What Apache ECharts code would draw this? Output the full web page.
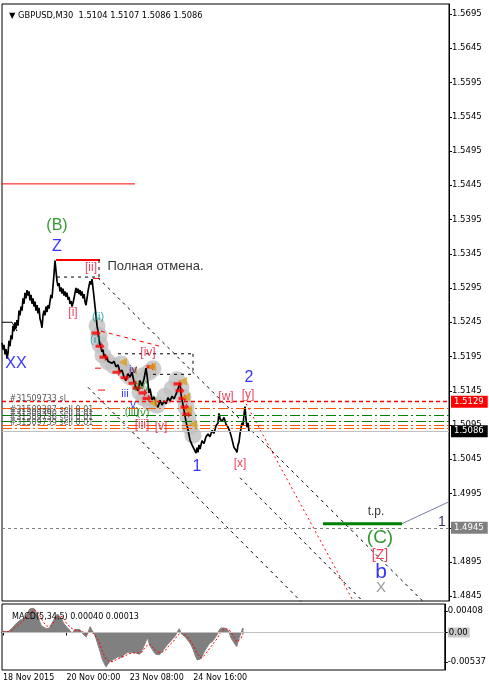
<!DOCTYPE html>
<html><head><meta charset="utf-8">
<script src="https://cdn.jsdelivr.net/npm/echarts@6/dist/echarts.min.js"></script>
<style>html,body{margin:0;padding:0;background:#fff}#c{width:489px;height:688px}</style>
</head><body><div id="c"></div>
<script>
// ---------- DATA ----------
const barX = [2,3,4,5,6,7,8,9,10,11,12,13,14,15,16,17,18,19,20,21,22,23,24,25,26,27,28,29,30,31,32,33,34,35,36,37,38,39,40,41,42,43,44,45,46,47,48,49,50,51,52,53,54,55,56,57,58,59,60,61,62,63,64,65,66,67,68,69,70,71,72,73,74,75,76,77,78,79,80,81,82,83,84,85,86,87,88,89,90,91,92,93,94,95,96,97,98,99,100,101,102,103,104,105,106,107,108,110,112,114,116,118,120,122,124,126,128,130,132,134,136,138,140,142,144,146,147,148,149,150,152,154,156,158,160,162,164,166,168,170,172,174,176,178,180,181,182,184,186,188,190,192,194,196,197,198,199,200,202,204,206,208,210,212,214,216,218,219,220,222,224,226,228,230,232,234,236,237,238,239,240,241,242,243,244,245,246,247,248,249];
const barPrice = [1.5215,1.5205,1.5212,1.5198,1.5206,1.5192,1.5200,1.5218,1.5210,1.5226,1.5220,1.5240,1.5232,1.5245,1.5236,1.5248,1.5240,1.5262,1.5255,1.5268,1.5262,1.5280,1.5272,1.5288,1.5280,1.5292,1.5284,1.5290,1.5277,1.5285,1.5272,1.5280,1.5268,1.5275,1.5262,1.5270,1.5258,1.5266,1.5250,1.5245,1.5237,1.5255,1.5262,1.5255,1.5268,1.5260,1.5270,1.5265,1.5276,1.5285,1.5280,1.5298,1.5315,1.5335,1.5320,1.5305,1.5298,1.5302,1.5290,1.5296,1.5287,1.5294,1.5284,1.5290,1.5282,1.5288,1.5278,1.5282,1.5272,1.5276,1.5268,1.5273,1.5280,1.5288,1.5295,1.5288,1.5294,1.5286,1.5292,1.5284,1.5290,1.5280,1.5286,1.5275,1.5270,1.5280,1.5290,1.5298,1.5305,1.5300,1.5308,1.5295,1.5282,1.5268,1.5255,1.5240,1.5232,1.5220,1.5212,1.5208,1.5202,1.5205,1.5195,1.5198,1.5190,1.5194,1.5188,1.5190,1.5185,1.5188,1.5180,1.5183,1.5172,1.5175,1.5165,1.5160,1.5170,1.5165,1.5172,1.5158,1.5150,1.5145,1.5160,1.5152,1.5162,1.5178,1.5168,1.5155,1.5142,1.5148,1.5132,1.5136,1.5125,1.5121,1.5131,1.5124,1.5130,1.5126,1.5135,1.5130,1.5137,1.5133,1.5140,1.5138,1.5156,1.5140,1.5132,1.5117,1.5100,1.5088,1.5073,1.5066,1.5060,1.5054,1.5062,1.5055,1.5066,1.5060,1.5072,1.5068,1.5078,1.5082,1.5078,1.5087,1.5083,1.5094,1.5098,1.5112,1.5104,1.5100,1.5106,1.5096,1.5092,1.5085,1.5074,1.5062,1.5058,1.5055,1.5066,1.5070,1.5082,1.5090,1.5098,1.5094,1.5110,1.5122,1.5104,1.5092,1.5098,1.5086];

const priceTicks = [1.4845,1.4895,1.4945,1.4995,1.5045,1.5095,1.5145,1.5195,1.5245,1.5295,1.5345,1.5395,1.5445,1.5495,1.5545,1.5595,1.5645,1.5695];
const dateTickX = [3,67,131,195];
const dateTickText = ['18 Nov 2015','20 Nov 00:00','23 Nov 08:00','24 Nov 16:00'];

const macdX = [3,5,8,10,13,15,17,20,23,26,28,30,32,34,36,38,40,42,44,47,50,52,54,56,58,60,62,64,67,70,72,73,75,78,81,83,85,87,89,91,93,95,97,99,101,103,105,107,109,111,113,115,117,119,121,123,125,127,129,131,133,135,137,139,141,143,145,147,149,151,153,155,157,159,161,163,165,167,169,171,173,175,177,179,181,183,185,187,189,191,193,195,197,199,201,203,205,207,209,211,213,215,217,219,221,223,225,227,229,231,233,235,237,239,241,243,245,246];
const macdHist = [0.0002,0.0003,0.0001,0.0002,0.0008,0.0012,0.0014,0.0019,0.0021,0.0026,0.0031,0.0037,0.0040,0.0038,0.0033,0.0028,0.0017,0.0010,0.0007,0.0006,0.0007,0.0013,0.0019,0.0025,0.0029,0.0027,0.0022,0.0015,0.0009,0.0004,0.0002,-0.0001,0.0004,0.0005,0.0004,-0.0001,-0.0003,-0.0007,0.0001,0.0009,0.0003,-0.0001,-0.0010,-0.0020,-0.0030,-0.0041,-0.0048,-0.0054,-0.0051,-0.0045,-0.0044,-0.0042,-0.0040,-0.0038,-0.0037,-0.0039,-0.0035,-0.0033,-0.0031,-0.0033,-0.0031,-0.0031,-0.0032,-0.0033,-0.0034,-0.0029,-0.0022,-0.0015,-0.0008,-0.0020,-0.0025,-0.0030,-0.0034,-0.0033,-0.0035,-0.0031,-0.0027,-0.0024,-0.0019,-0.0016,-0.0012,-0.0009,-0.0005,0.0001,0.0006,-0.0002,-0.0004,-0.0007,-0.0010,-0.0015,-0.0020,-0.0027,-0.0036,-0.0043,-0.0046,-0.0041,-0.0034,-0.0028,-0.0023,-0.0018,-0.0016,-0.0013,-0.0010,-0.0004,0.0003,0.0007,0.0008,0.0007,0.0007,0.0002,-0.0008,-0.0013,-0.0018,-0.0022,-0.0010,-0.0002,0.0007,0.0004];
const sigX = [3,7,11,15,19,23,27,31,35,39,43,47,51,55,59,63,67,71,75,79,83,87,91,95,99,103,107,111,115,119,123,127,131,135,139,143,147,151,155,159,163,167,171,175,179,183,187,191,195,199,203,207,211,215,219,223,227,231,235,239,243,246];
const sigVal = [0.0001,0.0001,0.0002,0.0008,0.0013,0.0018,0.0024,0.0031,0.0036,0.0030,0.0018,0.0010,0.0010,0.0018,0.0026,0.0025,0.0015,0.0008,0.0004,0.0003,0.0002,-0.0003,0.0001,-0.0002,-0.0012,-0.0028,-0.0042,-0.0046,-0.0045,-0.0041,-0.0039,-0.0036,-0.0033,-0.0032,-0.0032,-0.0031,-0.0022,-0.0018,-0.0025,-0.0031,-0.0031,-0.0028,-0.0020,-0.0014,-0.0005,0.0000,-0.0004,-0.0010,-0.0020,-0.0033,-0.0040,-0.0035,-0.0026,-0.0018,-0.0010,0.0001,0.0006,0.0005,-0.0004,-0.0015,-0.0010,0.0001];
const macdTickPos = [0.00337, 0, -0.00463];
const macdTickText = ['0.00408','0.00','-0.00537'];

// full-width price levels [price, kind]
const levelLines = [[1.5129,'sl'],[1.5120,'orange'],[1.5109,'green'],[1.5101,'green'],[1.5095,'orange'],[1.5090,'orange'],[1.5086,'bid'],[1.4945,'target']];
// drawn segments [x1, p1, x2, p2, kind]
const segments = [
 [2,1.5447,135,1.5447,'redSolid'],
 [56,1.5336,100,1.5336,'redThick'],
 [57,1.5311,95,1.5311,'blackDash'],
 [99,1.5336,99,1.5311,'blackDash'],
 [93,1.5309,100,1.5309,'redSolid'],
 [118,1.5199,193,1.5199,'blackDash'],
 [193,1.5199,193,1.5169,'blackDash'],
 [153,1.5169,193,1.5169,'blackDash'],
 [98,1.5310,424,1.4836,'blackDash'],
 [88,1.5150,302,1.4836,'blackDash'],
 [240,1.5018,364,1.4836,'blackDash'],
 [246,1.5126,354,1.4836,'redDot'],
 [101,1.5232,160,1.5210,'redDash'],
 [95,1.5178,101,1.5178,'redSolid'],
 [98,1.5146,105,1.5146,'redSolid'],
 [323,1.4951,402,1.4951,'tp'],
 [402,1.4951,449,1.4983,'grayThin'],
 [2,1.5245,12,1.5245,'blackThin'],
 [12,1.5245,17,1.5232,'blackThin']
];
// trade markers
const blobX = [97,99,100,103,108,114,121,125,130,136,143,149,153,140,144,150,157,165,172,177,181,183,186,188,190,193];
const blobP = [1.5240,1.5226,1.5212,1.5197,1.5187,1.5181,1.5184,1.5174,1.5165,1.5161,1.5167,1.5172,1.5177,1.5143,1.5134,1.5127,1.5124,1.5137,1.5148,1.5161,1.5150,1.5136,1.5121,1.5107,1.5092,1.5080];
const sellX = [96,100,104,117,125,133,137,143,147,151,178,180,183,185,187];
const sellP = [1.5229,1.5210,1.5194,1.5172,1.5164,1.5156,1.5149,1.5142,1.5134,1.5180,1.5155,1.5145,1.5134,1.5121,1.5111];
const closeX = [123,133,152,153,183,186,188,193];
const closeP = [1.5187,1.5175,1.5180,1.5127,1.5159,1.5136,1.5117,1.5096];

// text annotations [text, x, price, kind]
const waveLabels = [
 ['(B)',57,1.5386,'greenBig'],['Z',57,1.5356,'blueBig'],['XX',16,1.5184,'blueBig'],
 ['[i]',73,1.5259,'redSmall'],['[ii]',91,1.5324,'redSmall'],['(ii)',98,1.5253,'tealSmall'],['(i)',95,1.5219,'tealSmall'],
 ['[iv]',148,1.5200,'redSmall'],['iv',133,1.5175,'blueSmall'],['iii',125,1.5140,'blueSmall'],['v',133,1.5124,'blueSmall'],
 ['(iv)',141,1.5152,'greenSmall'],['(iii)',132,1.5114,'greenSmall'],['(v)',143,1.5113,'greenSmall'],
 ['[iii]',142,1.5096,'redSmall'],['[v]',161,1.5093,'redSmall'],
 ['1',197,1.5035,'blueBig'],['[w]',226,1.5137,'redSmall'],['[y]',248,1.5140,'redSmall'],['[x]',240,1.5038,'redSmall'],['2',249,1.5164,'blueBig'],
 ['t.p.',376,1.4968,'blackMid'],['(C)',380,1.4930,'greenHuge'],['[Z]',380,1.4905,'redMid'],['b',381,1.4880,'blueHuge'],['X',381,1.4857,'grayBig'],
 ['1',442,1.4953,'navyMid']
];
const noteLabels = [
 ['Полная отмена.',107,1.5327,'note'],
 ['#31509733 sl',9,1.5133,'order'],
 ['#31509387 sell 0.01',9,1.5117,'order'],
 ['#31509390 sell 0.01',9,1.5111,'order'],
 ['#31509736 sell 0.01',9,1.5105,'order'],
 ['#31509739 sell 0.01',9,1.5098,'order']
];

// ---------- STYLES ----------
const F = 'DejaVu Sans', A = 'Liberation Sans';
const labelStyles = {
 greenBig:{color:'#008000',fontSize:16}, blueBig:{color:'#0000ff',fontSize:16},
 redSmall:{color:'#ee1133',fontSize:12}, tealSmall:{color:'#009999',fontSize:11},
 blueSmall:{color:'#0000ff',fontSize:11}, greenSmall:{color:'#008000',fontSize:11},
 blackMid:{color:'#000',fontSize:12}, greenHuge:{color:'#008000',fontSize:19},
 redMid:{color:'#ee1133',fontSize:14}, blueHuge:{color:'#0000ff',fontSize:21},
 grayBig:{color:'#808080',fontSize:15}, navyMid:{color:'#000040',fontSize:14},
 note:{color:'#000',fontSize:13,fontFamily:A}, order:{color:'#303030',fontSize:8,fontFamily:F}
};
const segStyles = {
 redSolid:{color:'#ff0000',width:1,type:'solid'}, redThick:{color:'#ff0000',width:2,type:'solid'},
 blackDash:{color:'#000',width:1,type:[3,4]}, redDot:{color:'#ff0000',width:1,type:[2,3]},
 redDash:{color:'#ff0000',width:1,type:[4,4]}, tp:{color:'#008000',width:3,type:'solid'},
 grayThin:{color:'#7080a0',width:1,type:'solid'}, blackThin:{color:'#000',width:1,type:'solid'}
};
const levelStyles = {
 sl:{line:{color:'#ff0000',width:1.3,type:[4,3]}, tag:{bg:'#ff0000',fg:'#fff'}},
 orange:{line:{color:'#ff5500',width:1.2,type:[10,3,2,3]}},
 green:{line:{color:'#008000',width:1.2,type:[10,3,2,3]}},
 bid:{line:{color:'#c0c0c0',width:1,type:'solid'}, tag:{bg:'#000',fg:'#fff'}},
 target:{line:{color:'#808080',width:1,type:[3,3]}, tag:{bg:'#808080',fg:'#fff'}}
};

// ---------- CHART ----------
const chart = echarts.init(document.getElementById('c'));
const zip = (xs, ys) => xs.map((x,i)=>[x, ys[i]]);

const series = [];
series.push({type:'scatter', xAxisIndex:0, yAxisIndex:0, data: zip(blobX, blobP), symbol:'circle', symbolSize:17, itemStyle:{color:'#c0c0c0'}, silent:true, z:1});
series.push({type:'line', xAxisIndex:0, yAxisIndex:0, data:[], silent:true, z:2,
 markLine:{silent:true, precision:5, symbol:['none','none'], animation:false,
  data: levelLines.map(([p,k])=>{
   const st = levelStyles[k];
   const d = {yAxis:p, lineStyle:st.line, label:{show:false}};
   if (st.tag) d.label = {show:true, position:'end', distance:2, formatter:p.toFixed(4), backgroundColor:st.tag.bg, color:st.tag.fg, padding:[2,4,1,3], fontFamily:F, fontSize:8.5};
   return d;
  })}});
segments.forEach(([x1,p1,x2,p2,k])=>{
 series.push({type:'line', xAxisIndex:0, yAxisIndex:0, data:[[x1,p1],[x2,p2]], showSymbol:false, symbol:'none', lineStyle:segStyles[k], silent:true, z:3, clip:true});
});
series.push({type:'line', xAxisIndex:0, yAxisIndex:0, data: zip(barX, barPrice), showSymbol:false, symbol:'none', lineStyle:{color:'#000', width:1.7}, silent:true, z:4});
series.push({type:'scatter', xAxisIndex:0, yAxisIndex:0, data: zip(sellX, sellP), symbol:'path://M0,3 L6,3 L6,0 L10,5 L6,10 L6,7 L0,7 Z', symbolSize:[9,8], itemStyle:{color:'#ff0000'}, silent:true, z:5});
series.push({type:'scatter', xAxisIndex:0, yAxisIndex:0, data: zip(closeX, closeP), symbol:'path://M10,0 L0,5 L10,10 Z', symbolSize:[8,9], itemStyle:{color:'#d9a020'}, silent:true, z:5});
series.push({type:'scatter', xAxisIndex:0, yAxisIndex:0, symbolSize:1, itemStyle:{color:'rgba(0,0,0,0)'}, silent:true, z:6,
 data: waveLabels.map(([t,x,p,k])=>({value:[x,p], label:Object.assign({show:true, position:'inside', formatter:t, fontFamily:A, textBorderWidth:0}, labelStyles[k])}))});
series.push({type:'scatter', xAxisIndex:0, yAxisIndex:0, symbolSize:1, itemStyle:{color:'rgba(0,0,0,0)'}, silent:true, z:6,
 data: noteLabels.map(([t,x,p,k])=>({value:[x,p], label:Object.assign({show:true, position:'right', distance:0, formatter:t, textBorderWidth:0}, labelStyles[k])}))});
// MACD
series.push({type:'line', xAxisIndex:1, yAxisIndex:1, data: zip(macdX, macdHist), showSymbol:false, symbol:'none', lineStyle:{color:'#808080', width:1}, areaStyle:{color:'#808080', opacity:1}, silent:true, z:2,
 markLine:{silent:true, precision:5, symbol:['none','none'], animation:false, data:[{yAxis:0, lineStyle:{color:'#c0c0c0', width:1, type:'solid'}, label:{show:false}}]}});
series.push({type:'line', xAxisIndex:1, yAxisIndex:1, data: zip(sigX, sigVal), showSymbol:false, symbol:'none', lineStyle:{color:'#ff0000', width:1, type:[2,2]}, silent:true, z:3});

chart.setOption({
 animation:false,
 backgroundColor:'#fff',
 title:[
  {text:'▼ GBPUSD,M30  1.5104 1.5107 1.5086 1.5086', left:4, top:7, textStyle:{fontFamily:F, fontSize:8.3, fontWeight:'normal', color:'#000'}},
  {text:'MACD(5,34,5) 0.00040 0.00013', left:7, top:608, textStyle:{fontFamily:F, fontSize:8, fontWeight:'normal', color:'#000'}}
 ],
 grid:[
  {left:2, right:40, top:4, height:597, show:true, borderColor:'#000', borderWidth:1, backgroundColor:'#fff'},
  {left:2, right:40, top:604, height:66, show:true, borderColor:'#000', borderWidth:1, backgroundColor:'#fff'}
 ],
 xAxis:[
  {gridIndex:0, type:'value', min:2, max:449, show:false},
  {gridIndex:1, type:'value', min:2, max:449,
   axisLine:{show:true, lineStyle:{color:'#000'}}, splitLine:{show:false},
   axisTick:{show:true, customValues:dateTickX, length:3, lineStyle:{color:'#000'}},
   axisLabel:{customValues:dateTickX, formatter:(v)=>dateTickText[dateTickX.indexOf(v)] || '', align:'left', margin:4, fontFamily:F, fontSize:8, color:'#000'}}
 ],
 yAxis:[
  {gridIndex:0, type:'value', position:'right', min:1.48381, max:1.57096,
   axisLine:{show:true, lineStyle:{color:'#000'}}, splitLine:{show:false},
   axisTick:{show:true, customValues:priceTicks, length:3, lineStyle:{color:'#000'}},
   axisLabel:{customValues:priceTicks, formatter:(v)=>v.toFixed(4), margin:3, fontFamily:F, fontSize:8.5, color:'#000'}},
  {gridIndex:1, type:'value', position:'right', min:-0.005884, max:0.004472,
   axisLine:{show:true, lineStyle:{color:'#000'}}, splitLine:{show:false},
   axisTick:{show:true, customValues:macdTickPos, length:3, lineStyle:{color:'#000'}},
   axisLabel:{customValues:macdTickPos, margin:3, fontFamily:F, fontSize:8.5, color:'#000',
    formatter:(v)=>{ let bi=0; macdTickPos.forEach((t,i)=>{ if (Math.abs(t-v)<Math.abs(macdTickPos[bi]-v)) bi=i; }); const s=macdTickText[bi]; return s==='0.00' ? '{g|'+s+'}' : s; },
    rich:{g:{backgroundColor:'#c8c8c8', padding:[1,2,0,1], fontFamily:F, fontSize:8.5, color:'#000'}}}}
 ],
 series
});
</script></body></html>
